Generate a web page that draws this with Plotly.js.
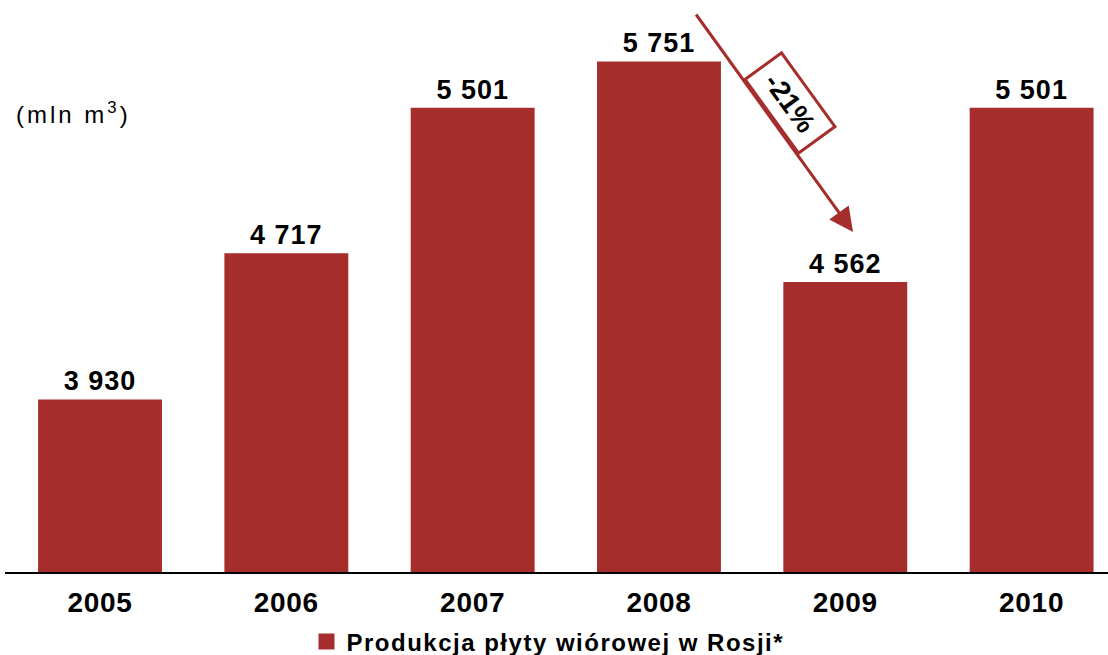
<!DOCTYPE html>
<html>
<head>
<meta charset="utf-8">
<script src="https://cdn.plot.ly/plotly-3.0.1.min.js"></script>
<style>
html, body { margin: 0; padding: 0; background: #fff; }
#chart { width: 1108px; height: 655px; }
.legendtext { letter-spacing: 1.5px; }
.bartext { letter-spacing: 1px; }
.xtick text { letter-spacing: 0.7px; }
.annotation[data-index="0"] text { letter-spacing: 3px; }
</style>
</head>
<body>
<div id="chart"></div>
<script>
const years = ['2005', '2006', '2007', '2008', '2009', '2010'];
const production = [3930, 4717, 5501, 5751, 4562, 5501];
const seriesName = 'Produkcja płyty wiórowej w Rosji*';
const unitLabel = '(mln m<sup>3</sup>)';
const changeLabel = '-21%';

const barColor = '#A52E2D';
const fontFamily = '"Liberation Sans", Arial, sans-serif';

function fmt(v) {
  return String(v).replace(/\B(?=(\d{3})+(?!\d))/g, ' ');
}

const trace = {
  type: 'bar',
  x: years,
  y: production,
  name: seriesName,
  legendgroup: 'prod',
  marker: { color: barColor },
  text: production.map(fmt),
  textposition: 'outside',
  cliponaxis: false,
  constraintext: 'none',
  textfont: { family: fontFamily, size: 27, color: '#000', weight: 'bold' },
  showlegend: false,
  hoverinfo: 'skip'
};

// legend key only (square swatch for the same series)
const legendKey = {
  type: 'scatter',
  mode: 'markers',
  x: [null],
  y: [null],
  name: seriesName,
  legendgroup: 'prod',
  marker: { symbol: 'square', size: 17, color: barColor },
  showlegend: true,
  hoverinfo: 'skip'
};

const L = 5, W = 1103, B = 572;
function px(x) { return (x - L) / W; }
function py(y) { return (B - y) / B; }

const layout = {
  width: 1108,
  height: 655,
  margin: { l: 5, r: 0, t: 0, b: 83, pad: 0, autoexpand: false },
  paper_bgcolor: '#fff',
  plot_bgcolor: '#fff',
  bargap: 0.335,
  showlegend: true,
  legend: {
    orientation: 'h',
    x: px(548), xanchor: 'center',
    y: py(642), yanchor: 'middle',
    font: { family: fontFamily, size: 24, color: '#000', weight: 'bold' },
    itemwidth: 30
  },
  xaxis: {
    type: 'category',
    categoryorder: 'array',
    categoryarray: years,
    range: [-0.51, 5.41],
    showline: true,
    linecolor: '#000',
    linewidth: 2,
    showgrid: false,
    zeroline: false,
    ticks: '',
    ticklabelstandoff: 4,
    tickfont: { family: fontFamily, size: 28, color: '#000', weight: 'bold' },
    fixedrange: true
  },
  yaxis: {
    range: [3000, 6082],
    visible: false,
    showgrid: false,
    zeroline: false,
    fixedrange: true
  },
  annotations: [
    {
      xref: 'paper', yref: 'paper',
      x: px(26), y: py(113),
      xanchor: 'left', yanchor: 'middle',
      text: unitLabel,
      showarrow: false,
      font: { family: fontFamily, size: 24, color: '#000' }
    },
    {
      xref: 'paper', yref: 'paper',
      x: px(853), y: py(232),
      text: '',
      showarrow: true,
      arrowhead: 2,
      arrowsize: 1.6,
      arrowwidth: 3,
      arrowcolor: barColor,
      ax: 695 - 853,
      ay: 13 - 232
    },
    {
      xref: 'paper', yref: 'paper',
      x: px(790), y: py(103),
      xanchor: 'center', yanchor: 'middle',
      text: changeLabel,
      showarrow: false,
      textangle: 54,
      width: 88,
      height: 42,
      borderpad: 0,
      borderwidth: 3,
      bordercolor: barColor,
      bgcolor: '#fff',
      font: { family: fontFamily, size: 28, color: '#000', weight: 'bold' }
    }
  ],
  hovermode: false
};

Plotly.newPlot('chart', [trace, legendKey], layout, { displayModeBar: false, staticPlot: true });
</script>
</body>
</html>
